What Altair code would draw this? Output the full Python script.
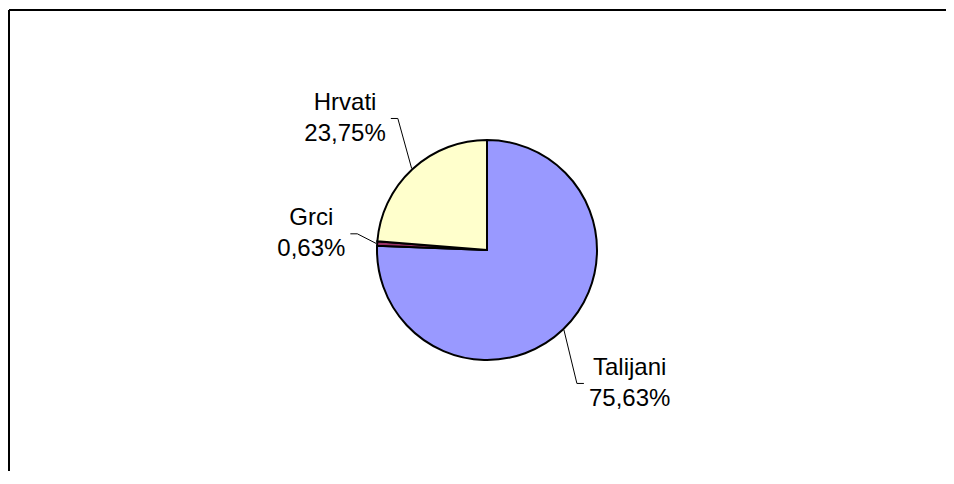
import altair as alt
import pandas as pd

# ---- data ----
categories = ["Talijani", "Grci", "Hrvati"]
shares = [75.63, 0.63, 23.75]
colors = ["#9999FF", "#993366", "#FFFFCC"]

pct_labels = [f"{v:.2f}".replace(".", ",") + "%" for v in shares]
df = pd.DataFrame({
    "cat": categories,
    "share": shares,
    "pct": pct_labels,
    "txt": [c + "\n" + p for c, p in zip(categories, pct_labels)],
    "order": list(range(len(categories))),
})

# ---- layout ----
W, H = 936, 460
CX, CY = 477, 239
R = 110
LABEL_R = 190
LINE_H = 31
nudge = {"Talijani": (11, -3.5), "Grci": (14, -5), "Hrvati": (-13, 8)}


def case(idx):
    expr = "0"
    for k, v in nudge.items():
        expr = f"(datum.cat === '{k}' ? {v[idx]} : {expr})"
    return expr


base = (
    alt.Chart(df)
    .transform_joinaggregate(total="sum(share)")
    .transform_window(cum="sum(share)", sort=[alt.SortField("order")], frame=[None, 0])
    .transform_calculate(mid="(datum.cum - datum.share/2)/datum.total*2*PI")
    .transform_calculate(ex=f"{CX} + {R + 1}*sin(datum.mid)")
    .transform_calculate(ey=f"{CY} - {R + 1}*cos(datum.mid)")
    .transform_calculate(lx=f"{CX} + {LABEL_R}*sin(datum.mid) + {case(0)}")
    .transform_calculate(ly=f"{CY} - {LABEL_R}*cos(datum.mid) + {case(1)}")
    .transform_calculate(side=f"datum.lx < {CX} ? 1 : -1")
    .transform_calculate(hw="length(datum.pct)*6.8")
    .transform_calculate(x2e="datum.lx + datum.side*(datum.hw + 5)")
    .transform_calculate(x1e="datum.x2e + datum.side*7")
)

pie = alt.Chart(df).mark_arc(radius=R, stroke="black", strokeWidth=2).encode(
    theta=alt.Theta("share:Q", stack=True),
    order=alt.Order("order:Q"),
    color=alt.Color("cat:N", scale=alt.Scale(domain=categories, range=colors), legend=None),
    x=alt.value(CX),
    y=alt.value(CY),
)

lead1 = base.mark_rule(color="black", strokeWidth=1).encode(
    x=alt.X("ex:Q", scale=None),
    y=alt.Y("ey:Q", scale=None),
    x2="x1e:Q",
    y2="ly:Q",
)
lead2 = base.mark_rule(color="black", strokeWidth=1).encode(
    x=alt.X("x1e:Q", scale=None),
    y=alt.Y("ly:Q", scale=None),
    x2="x2e:Q",
    y2="ly:Q",
)

text = base.mark_text(
    lineBreak="\n", font="Liberation Sans", fontSize=24, lineHeight=LINE_H,
    align="center", baseline="middle", color="black", dy=-LINE_H / 2,
).encode(
    x=alt.X("lx:Q", scale=None),
    y=alt.Y("ly:Q", scale=None),
    text="txt:N",
)

frame_df = pd.DataFrame({"k": [0]})
frame_top = alt.Chart(frame_df).mark_rule(color="black", strokeWidth=2).encode(
    x=alt.value(-1), x2=alt.value(W + 20), y=alt.value(-1)
)
frame_left = alt.Chart(frame_df).mark_rule(color="black", strokeWidth=2).encode(
    x=alt.value(-1), y=alt.value(-1), y2=alt.value(H + 20)
)

chart = (
    alt.layer(frame_top, frame_left, pie, lead1, lead2, text)
    .properties(
        width=W, height=H,
        autosize=alt.AutoSizeParams(type="none"),
        padding={"left": 2, "top": 3, "right": 0, "bottom": 0},
    )
    .configure_view(strokeWidth=0)
)

chart.save("out.html", embed_options={"renderer": "svg", "actions": False})
